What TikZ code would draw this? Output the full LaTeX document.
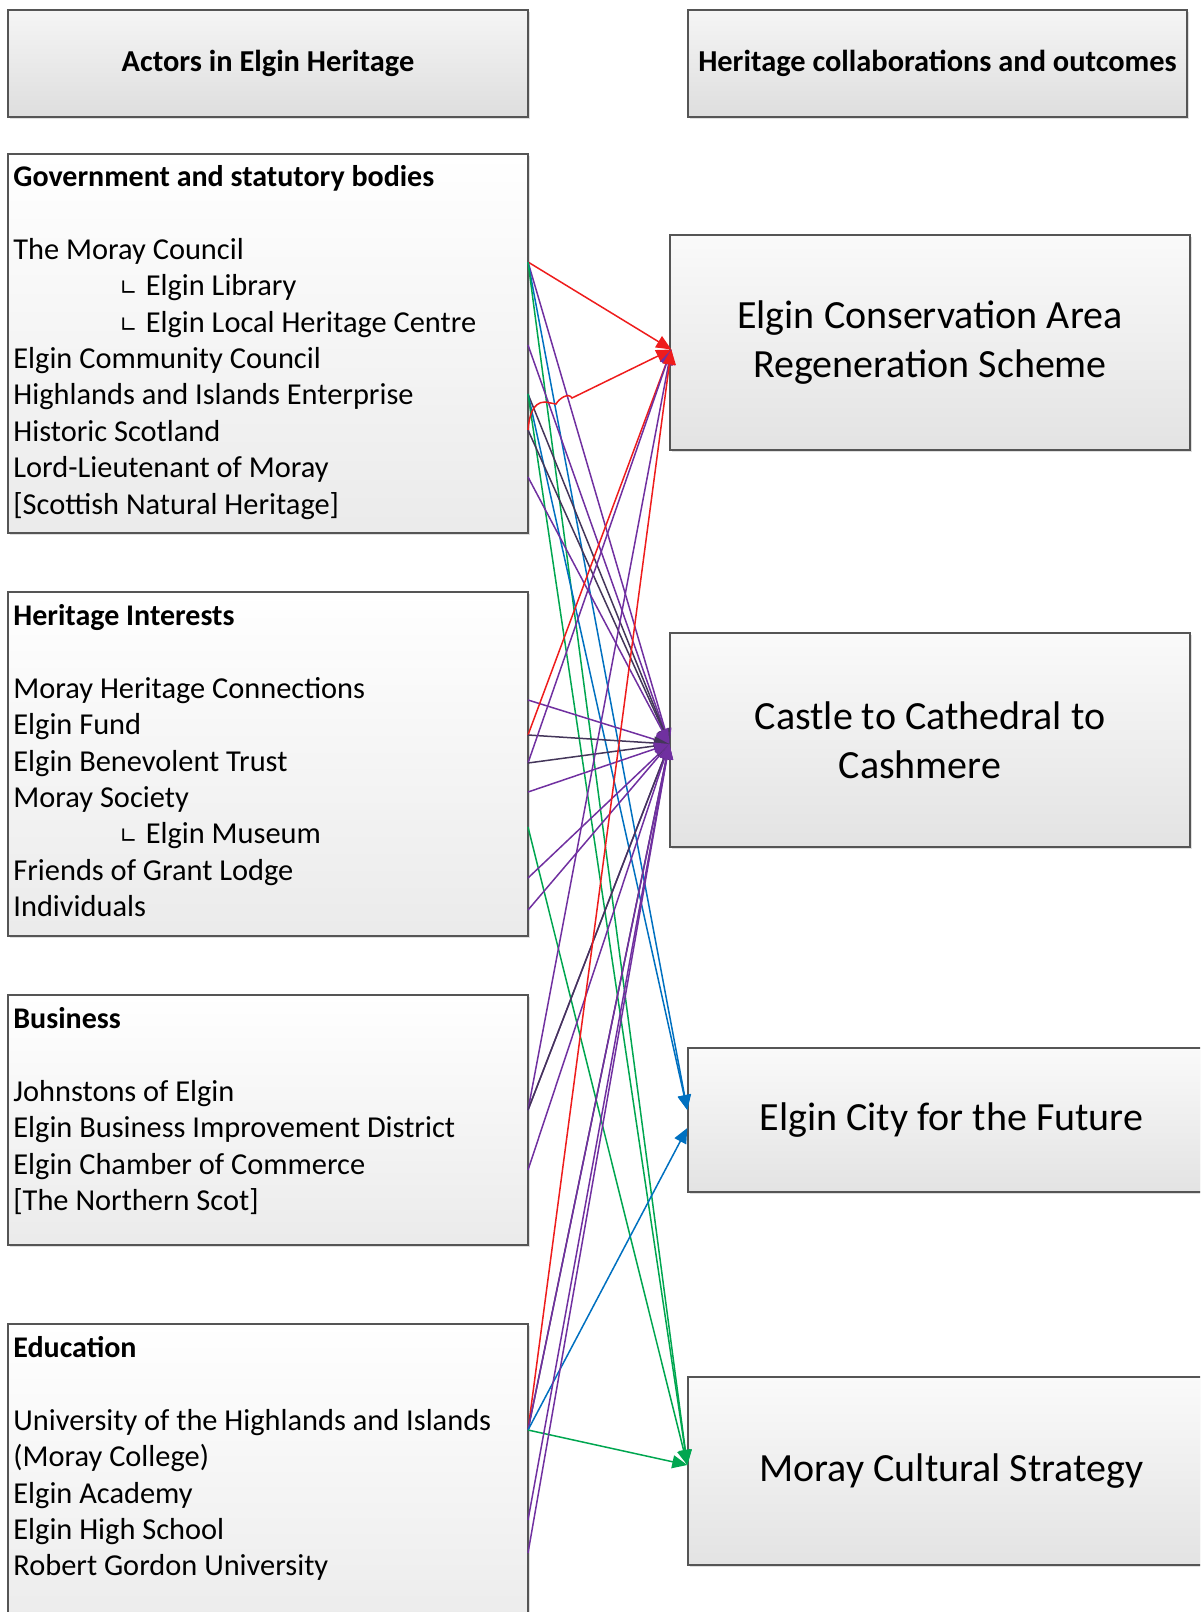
\documentclass[tikz,border=0pt]{standalone}
\usepackage{fontspec}
\setmainfont{Carlito}
\newfontfamily\symfont{DejaVu Sans}
\usetikzlibrary{arrows.meta, shadows, calc}
\definecolor{linkred}{HTML}{EE1C1C}
\definecolor{linkpurple}{HTML}{7030A0}
\definecolor{linkdark}{HTML}{44365A}
\definecolor{linkgreen}{HTML}{00A650}
\definecolor{linkblue}{HTML}{0070C0}
\definecolor{boxline}{HTML}{555555}
\newcommand{\headfont}{\fontsize{15}{18.2}\selectfont\bfseries}
\newcommand{\lsub}[1]{\hspace*{53pt}{\symfont\fontsize{11}{11}\selectfont ∟}\hspace{4pt}#1}

\begin{document}
\begin{tikzpicture}[x=0.5pt, y=-0.5pt,
                box/.style={draw=boxline, line width=0.7pt, rectangle, top color=white, bottom color=black!8, drop shadow={shadow xshift=1.2pt, shadow yshift=-1.2pt, opacity=0.25}},
                headbox/.style={box, top color=black!4, bottom color=black!13, font=\fontsize{15.2}{17}\selectfont\bfseries},
                outbox/.style={box, top color=black!2, bottom color=black!11, align=center, font=\fontsize{20}{24.5}\selectfont},
                listtext/.style={anchor=north west, inner sep=0pt, align=left, font=\fontsize{15.2}{18.2}\selectfont},
                link/.style={line width=0.75pt, -{Triangle[length=7.5pt, width=6.5pt]}}
            ]
            \useasboundingbox (0,0) rectangle (1200,1612);
            \clip (0,0) rectangle (1200,1612);

            % Kopfzeilen
            \node[headbox, minimum width=260pt, minimum height=53.5pt] (actors) at (268,63.5) {Actors in Elgin Heritage};
            \node[headbox, minimum width=249.5pt, minimum height=53.5pt] (outcomes) at (937.5,63.5) {Heritage collaborations and outcomes};

            % Akteure
            \node[box, minimum width=260pt, minimum height=189.5pt] (gov) at (268,343.5) {};
            \node[box, minimum width=260pt, minimum height=172pt] (her) at (268,764) {};
            \node[box, minimum width=260pt, minimum height=125pt] (bus) at (268,1120) {};
            \node[box, minimum width=260pt, minimum height=158pt] (edu) at (268,1482) {};

            \node[listtext] (govtext) at (13,165) {{\headfont Government and statutory bodies}\\[18.2pt]
                The Moray Council\\ \lsub{Elgin Library}\\ \lsub{Elgin Local Heritage Centre}\\ Elgin Community Council\\
                Highlands and Islands Enterprise\\ Historic Scotland\\ Lord-Lieutenant of Moray\\ {[Scottish Natural Heritage]}};
            \node[listtext] (hertext) at (13,604) {{\headfont Heritage Interests}\\[18.2pt]
                Moray Heritage Connections\\ Elgin Fund\\ Elgin Benevolent Trust\\ Moray Society\\ \lsub{Elgin Museum}\\
                Friends of Grant Lodge\\ Individuals};
            \node[listtext] (bustext) at (13,1007) {{\headfont Business}\\[18.2pt]
                Johnstons of Elgin\\ Elgin Business Improvement District\\ Elgin Chamber of Commerce\\ {[The Northern Scot]}};
            \node[listtext] (edutext) at (13,1336) {{\headfont Education}\\[18.2pt]
                University of the Highlands and Islands\\ (Moray College)\\ Elgin Academy\\ Elgin High School\\ Robert Gordon University};

            % Ergebnisse
            \node[outbox, minimum width=260pt, minimum height=107.5pt] (ecars) at (930,342.5) {Elgin Conservation Area\\Regeneration Scheme};
            \node[outbox, minimum width=260pt, minimum height=107pt] (castle) at (930,740) {Castle to Cathedral to\\Cashmere\hspace*{10pt}};
            \node[outbox, minimum width=263.5pt, minimum height=72pt] (future) at (951.5,1120) {Elgin City for the Future};
            \node[outbox, minimum width=263.5pt, minimum height=94pt] (strategy) at (951.5,1471) {Moray Cultural Strategy};

            % Anschlusspunkte
            \coordinate (council) at (528,262);
            \coordinate (community) at (528,345);
            \coordinate (hie) at (528,394);
            \coordinate (histscot) at (528,430);
            \coordinate (lordlt) at (528,477);
            \coordinate (mhc) at (528,700);
            \coordinate (fund) at (528,735);
            \coordinate (benevolent) at (528,763);
            \coordinate (society) at (528,792);
            \coordinate (museum) at (528,827);
            \coordinate (grant) at (528,878);
            \coordinate (individuals) at (528,910);
            \coordinate (johnstons) at (528,1110);
            \coordinate (chamber) at (528,1170);
            \coordinate (uhi) at (528,1430);
            \coordinate (highschool) at (528,1520);
            \coordinate (rgu) at (528,1553);
            \coordinate (in-ecars) at ($(ecars.west)+(2,7)$);
            \coordinate (in-castle) at ($(castle.west)+(0,4)$);
            \coordinate (in-future-a) at ($(future.west)+(0,-10)$);
            \coordinate (in-future-b) at ($(future.west)+(0,8)$);
            \coordinate (in-strategy) at ($(strategy.west)+(0,-6)$);

            % Kanten
            \draw[link, linkred] (council) -- (in-ecars);
            \draw[link, linkpurple] (council) -- (in-castle);
            \draw[link, linkblue] (council) -- (in-future-a);
            \draw[link, linkgreen] (council) -- (in-strategy);
            \draw[link, linkpurple] (community) -- (in-castle);
            \draw[link, linkdark] (hie) -- (in-castle);
            \draw[link, linkblue] (hie) -- (in-future-a);
            \draw[link, linkgreen] (hie) -- (in-strategy);
            \draw[link, linkdark] (histscot) -- (in-castle);
            \draw[link, linkred] (histscot) to[out=85, in=180] (545,402) -- (556,404) to[out=60, in=120] (572,398) -- (in-ecars);
            \draw[link, linkpurple] (lordlt) -- (in-castle);
            \draw[link, linkpurple] (mhc) -- (in-castle);
            \draw[link, linkred] (fund) -- (in-ecars);
            \draw[link, linkdark] (fund) -- (in-castle);
            \draw[link, linkpurple] (benevolent) -- (in-ecars);
            \draw[link, linkdark] (benevolent) -- (in-castle);
            \draw[link, linkpurple] (society) -- (in-castle);
            \draw[link, linkgreen] (museum) -- (in-strategy);
            \draw[link, linkpurple] (grant) -- (in-castle);
            \draw[link, linkpurple] (individuals) -- (in-castle);
            \draw[link, linkpurple] (johnstons) -- (in-ecars);
            \draw[link, linkpurple] (johnstons) -- (in-castle);
            \draw[link, linkdark] (johnstons) -- (in-castle);
            \draw[link, linkpurple] (chamber) -- (in-castle);
            \draw[link, linkred] (uhi) -- (in-ecars);
            \draw[link, linkdark] (uhi) -- (in-castle);
            \draw[link, linkpurple] (uhi) -- (in-castle);
            \draw[link, linkblue] (uhi) -- (in-future-b);
            \draw[link, linkgreen] (uhi) -- (in-strategy);
            \draw[link, linkpurple] (highschool) -- (in-castle);
            \draw[link, linkpurple] (rgu) -- (in-castle);

        \end{tikzpicture}
\end{document}
